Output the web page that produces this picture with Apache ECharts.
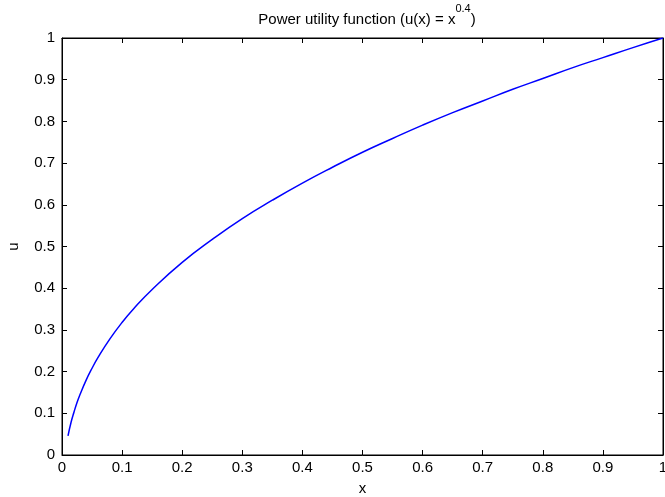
<!DOCTYPE html>
<html>
<head>
<meta charset="utf-8">
<script src="https://cdn.jsdelivr.net/npm/echarts@6/dist/echarts.min.js"></script>
<style>html,body{margin:0;padding:0;background:#fff;}#c{width:665px;height:497px;}</style>
</head>
<body>
<div id="c"></div>
<script>
var xValues = [0.01, 0.015, 0.02, 0.025, 0.03, 0.04, 0.05, 0.06, 0.08, 0.1, 0.12, 0.15, 0.2, 0.25, 0.3, 0.35, 0.4, 0.45, 0.5, 0.55, 0.6, 0.65, 0.7, 0.75, 0.8, 0.85, 0.9, 0.95, 1.0];
var uValues = [0.046, 0.078, 0.103, 0.126, 0.145, 0.179, 0.208, 0.234, 0.279, 0.318, 0.352, 0.397, 0.462, 0.517, 0.567, 0.611, 0.652, 0.690, 0.726, 0.759, 0.791, 0.821, 0.849, 0.877, 0.903, 0.929, 0.953, 0.977, 1.0];
var xTicks = ['0','0.1','0.2','0.3','0.4','0.5','0.6','0.7','0.8','0.9','1'];
var yTicks = ['0','0.1','0.2','0.3','0.4','0.5','0.6','0.7','0.8','0.9','1'];

var FONT = 'Liberation Sans, Arial, sans-serif';
var FS = 15;
var data = xValues.map(function (x, i) { return [x, uValues[i]]; });

var chart = echarts.init(document.getElementById('c'), null, {renderer: 'canvas'});
var axisLine = {show: true, onZero: false, lineStyle: {color: '#000', width: 1}};
var tick = {show: true, inside: true, length: 5, lineStyle: {color: '#000', width: 1}};
chart.setOption({
  backgroundColor: '#fff',
  animation: false,
  title: {
    text: '{t|Power utility function (u(x) = x}{s|0.4}{t|)}',
    left: 362, top: -2, textAlign: 'center',
    textStyle: {
      fontWeight: 'normal',
      rich: {
        t: {fontFamily: FONT, fontSize: FS, fontWeight: 'normal', color: '#000', verticalAlign: 'bottom', lineHeight: 24},
        s: {fontFamily: FONT, fontSize: 11, fontWeight: 'normal', color: '#000', verticalAlign: 'top', lineHeight: 24, padding: [0, 0, 12, 0]}
      }
    }
  },
  grid: {left: 62, right: 2, top: 38, bottom: 42, containLabel: false, outerBoundsMode: 'none',
    show: true, borderColor: '#000', borderWidth: 1, backgroundColor: 'transparent'},
  xAxis: [{
    type: 'value', min: 0, max: 1, interval: 0.1, position: 'bottom',
    name: 'x', nameLocation: 'middle', nameGap: 26,
    nameTextStyle: {fontFamily: FONT, fontSize: FS, color: '#000'},
    axisLine: axisLine, axisTick: tick, splitLine: {show: false},
    axisLabel: {fontFamily: FONT, fontSize: FS, color: '#000', margin: 5,
      formatter: function (v) { return xTicks[Math.round(v * 10)]; }}
  }, {
    type: 'value', min: 0, max: 1, interval: 0.1, position: 'top',
    axisLine: axisLine, axisTick: tick, splitLine: {show: false}, axisLabel: {show: false}
  }],
  yAxis: [{
    type: 'value', min: 0, max: 1, interval: 0.1, position: 'left',
    name: 'u', nameLocation: 'middle', nameGap: 41, nameRotate: 90,
    nameTextStyle: {fontFamily: FONT, fontSize: FS, color: '#000'},
    axisLine: axisLine, axisTick: tick, splitLine: {show: false},
    axisLabel: {fontFamily: FONT, fontSize: FS, color: '#000', margin: 7,
      formatter: function (v) { return yTicks[Math.round(v * 10)]; }}
  }, {
    type: 'value', min: 0, max: 1, interval: 0.1, position: 'right',
    axisLine: axisLine, axisTick: tick, splitLine: {show: false}, axisLabel: {show: false}
  }],
  series: [{
    type: 'line', data: data, xAxisIndex: 0, yAxisIndex: 0,
    smooth: true, showSymbol: false, symbol: 'none',
    lineStyle: {color: '#0000ff', width: 1.5}
  }, {
    type: 'line', data: [], xAxisIndex: 1, yAxisIndex: 1, showSymbol: false, silent: true
  }]
});
</script>
</body>
</html>
